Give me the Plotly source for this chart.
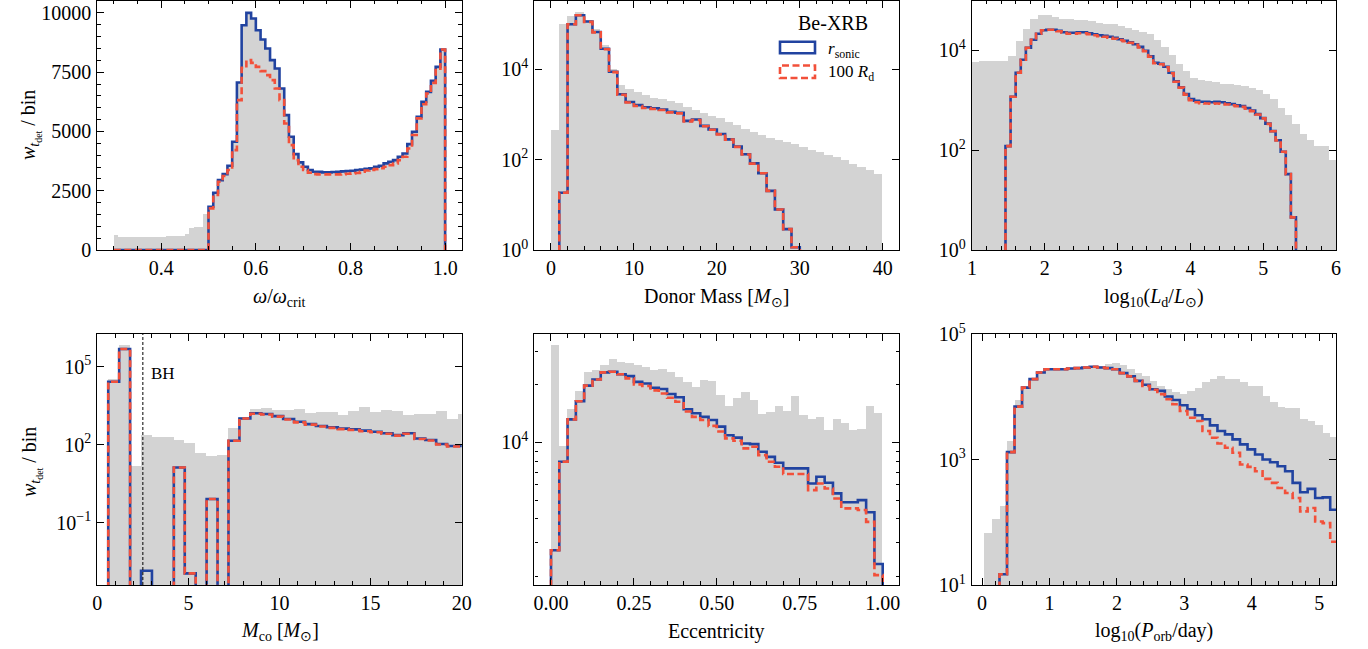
import plotly.graph_objects as go
from plotly.subplots import make_subplots

# ---------------- data ----------------
# Panel 1: omega / omega_crit (bins 0.01 from 0.30)
p1_start, p1_width = 0.30, 0.01
grey1 = [632, 562, 560, 562, 565, 562, 560, 562, 565, 565, 568, 590, 590, 592, 590, 700, 940, 983, 983, 1517,
         1826, 2416, 2949, 3202, 3553, 4565, 7065, 9480, 10000, 9761, 9270, 8876, 8497, 8006, 7654, 6812, 5688,
         4775, 4045, 3694, 3511, 3371, 3300, 3300, 3272, 3272, 3290, 3300, 3315, 3330, 3345, 3371, 3390, 3420,
         3441, 3511, 3553, 3652, 3722, 3792, 3933, 4073, 4466, 4986, 5618, 6250, 6671, 7135, 7725, 8455]
blue1 = [0, 0, 0, 0, 0, 0, 0, 0, 0, 0, 0, 0, 0, 0, 0, 0, 0, 0, 0, 0,
         1826, 2416, 2949, 3202, 3553, 4565, 7065, 9480, 10000, 9761, 9270, 8876, 8497, 8006, 7654, 6812, 5688,
         4775, 4045, 3694, 3511, 3371, 3300, 3300, 3272, 3272, 3290, 3300, 3315, 3330, 3345, 3371, 3390, 3420,
         3441, 3511, 3553, 3652, 3722, 3792, 3933, 4073, 4466, 4986, 5618, 6250, 6671, 7135, 7725, 8455]
red1 = [0, 0, 0, 0, 0, 0, 0, 0, 0, 0, 0, 0, 0, 0, 0, 0, 0, 0, 0, 0,
        1756, 2317, 2879, 3118, 3371, 4213, 6320, 7683, 8006, 7893, 7725, 7542, 7374, 7163, 6812, 6320, 5337,
        4424, 3792, 3511, 3371, 3258, 3202, 3188, 3188, 3188, 3188, 3188, 3200, 3215, 3230, 3250, 3300, 3350,
        3380, 3410, 3450, 3511, 3580, 3650, 3792, 3933, 4280, 4850, 5550, 6150, 6600, 7050, 7650, 8455]

# Panel 2: donor mass (bins 1 Msun from 0)
p2_start, p2_width = 0.0, 1.0
grey2 = [457, 100000, 158000, 190000, 126000, 77600, 34700, 10500, 4470, 3630, 3160, 2690, 2400, 2240, 2000,
         1780, 1450, 1260, 1100, 955, 832, 692, 589, 490, 417, 355, 309, 282, 251, 224, 195, 170, 151, 126,
         117, 98, 83, 71, 59, 50]
blue2 = [0, 18.6, 100000, 158000, 115000, 67600, 28800, 8900, 2820, 1900, 1620, 1450, 1380, 1290, 1150, 1100,
         724, 776, 562, 468, 372, 282, 195, 132, 83, 50, 20.4, 7.9, 2.9, 1.15, 0, 0, 0, 0, 0, 0, 0, 0, 0, 0]
red2 = [0, 18.6, 100000, 158000, 113000, 66000, 28000, 8700, 2750, 1850, 1550, 1400, 1330, 1260, 1120, 1060,
        700, 760, 550, 460, 365, 278, 192, 130, 82, 50, 20.4, 7.9, 2.9, 1.15, 0, 0, 0, 0, 0, 0, 0, 0, 0, 0]

# Panel 3: log10(Ld/Lsun)
p3g_start, p3g_width = 1.0, 0.1
grey3 = [5890, 6030, 6170, 6170, 6030, 7590, 15500, 26900, 42700, 50100, 50100, 46800, 42700, 42700, 40700,
         39800, 38000, 35500, 34000, 33100, 30200, 28200, 25700, 23400, 21400, 16200, 11700, 7940, 5370, 3890,
         2820, 2510, 2400, 2290, 2140, 2090, 2000, 1910, 1780, 1580, 1350, 1070, 708, 501, 339, 214, 158, 120,
         120, 65]
p3_start, p3_width = 1.46, 0.07
blue3 = [120, 1175, 3550, 6460, 11200, 16200, 21400, 25100, 25700, 25700, 24500, 22900, 22400, 22400, 22900,
         22900, 21900, 20900, 20000, 19500, 18600, 17800, 16600, 15500, 14500, 13200, 11700, 9770, 7590, 5620,
         5370, 4680, 3550, 2400, 1820, 1320, 1050, 977, 933, 933, 912, 933, 912, 871, 832, 794, 759, 692, 617,
         525, 437, 339, 240, 158, 93, 33, 4.5]
red3 = [120, 1175, 3550, 6460, 11200, 16200, 21400, 25100, 25700, 25700, 24000, 22400, 21400, 21400, 21900,
        21900, 21000, 20000, 19100, 18600, 17800, 17000, 16000, 15100, 14100, 12900, 11400, 9550, 7410, 5500,
        5250, 4570, 3470, 2340, 1780, 1290, 1000, 912, 870, 860, 850, 860, 850, 820, 790, 760, 735, 675, 605,
        518, 432, 335, 238, 157, 93, 33, 4.5]

# Panel 4: compact object mass
p4_start, p4_width = 0.6, 0.6
grey4 = [32400, 676000, 15.5, 234, 204, 191, 151, 112, 47, 36, 40, 427, 1200, 2290, 2510, 2140, 2140, 2290,
         1700, 1820, 1860, 1380, 2040, 2750, 1860, 2140, 2040, 1380, 1580, 1580, 2040, 933, 1480]
blue4 = [26300, 479000, 0, 0.0014, 0, 0, 13.2, 0.00112, 0, 0.81, 0, 141, 1020, 1620, 1510, 1260, 977, 759,
         617, 525, 468, 417, 389, 347, 316, 275, 234, 275, 174, 151, 107, 89, 89]
red4 = [26300, 479000, 0, 0, 0, 0, 13.2, 0.00112, 0, 0.81, 0, 141, 1020, 1560, 1450, 1200, 930, 720,
        590, 500, 445, 398, 370, 330, 300, 262, 223, 262, 166, 144, 102, 85, 85]
bh_limit = 2.5

# Panel 5: eccentricity
p5_start, p5_width = 0.0, 0.025
grey5 = [32200, 9570, 15000, 18500, 23400, 23900, 25500, 27400, 26400, 26000, 25300, 24800, 23900, 24300,
         23400, 22000, 20700, 19500, 21300, 20900, 17700, 15500, 17000, 18400, 16600, 14100, 14500, 15500,
         14600, 17500, 13900, 13300, 13500, 11600, 13200, 12600, 11600, 11800, 15500, 14200]
blue5 = [2740, 7930, 13200, 16400, 19800, 21300, 23200, 23400, 22700, 22200, 20700, 20300, 19300, 19000,
         17900, 17200, 14900, 14200, 13600, 13100, 12100, 10900, 10600, 9880, 9800, 8940, 8410, 7830, 7320,
         7320, 7320, 6110, 6620, 6160, 5420, 4870, 4870, 5000, 4320, 2320]
red5 = [2740, 7930, 13200, 16400, 19800, 21300, 23200, 23400, 22700, 21600, 20100, 19700, 18700, 18000,
        17100, 16300, 14500, 13600, 13100, 12200, 11400, 10500, 10200, 9310, 9490, 8590, 7930, 7470, 6840,
        6840, 6840, 5640, 6110, 5750, 5100, 4530, 4530, 4440, 3850, 2030]

# Panel 6: log10(Porb/day)
p6_start, p6_width = 0.035, 0.1115
grey6 = [67, 112, 184, 1960, 8890, 14900, 19100, 23800, 26900, 28200, 28200, 28200, 28600, 29300, 30000,
         31100, 33100, 34400, 31900, 27500, 23800, 21100, 17900, 14900, 13200, 11700, 11000, 12400, 14000,
         16900, 19100, 21100, 19500, 19100, 16900, 14900, 14900, 10300, 8260, 6970, 6710, 6710, 4480, 4110,
         3500, 2670, 2310]
blue6 = [0, 0, 14.8, 1310, 6970, 14000, 19100, 24400, 27500, 27500, 27500, 28200, 28600, 29300, 30000, 29300,
         28600, 27500, 23800, 21100, 17900, 15500, 13200, 12400, 10100, 8890, 7310, 6310, 5060, 4370, 3500,
         2840, 2510, 2090, 1740, 1450, 1200, 1000, 906, 782, 650, 424, 300, 340, 244, 249, 158]
red6 = [0, 0, 14.8, 1310, 6970, 14000, 19100, 24400, 27500, 27500, 27500, 28200, 28600, 29300, 30000, 29300,
        28600, 27500, 23800, 21100, 17900, 14900, 12900, 11000, 9120, 7590, 5930, 4640, 4110, 2840, 2220,
        1800, 1540, 1280, 832, 764, 650, 491, 424, 352, 293, 244, 149, 169, 103, 97, 49]

x_titles = ["<i>ω</i>/<i>ω</i><sub>crit</sub>", "Donor Mass [<i>M</i><sub>⊙</sub>]",
            "log<sub>10</sub>(<i>L</i><sub>d</sub>/<i>L</i><sub>⊙</sub>)",
            "<i>M</i><sub>co</sub> [<i>M</i><sub>⊙</sub>]", "Eccentricity",
            "log<sub>10</sub>(<i>P</i><sub>orb</sub>/day)"]
y_title = "<i>w</i><sub><i>t</i><sub>det</sub></sub> / bin"
legend_title = "Be-XRB"
legend_labels = ["<i>r</i><sub>sonic</sub>", "100 <i>R</i><sub>d</sub>"]

# ---------------- style ----------------
BLUE = "#2143a0"
RED = "#f2503a"
GREY = "#d3d3d3"
FONT = "Liberation Serif"
W, H = 1368, 649


def px_x(v):
    return v / W


def px_y(v):
    return 1 - v / H


def edges_of(start, width, n):
    return [start + width * i for i in range(n + 1)]


def step_xy(start, width, vals, floor):
    n = len(vals)
    e = edges_of(start, width, n)
    v = [val if val > 0 else floor for val in vals]
    xs = [e[0]] + e[:n] + [e[n], e[n]]
    ys = [floor] + v + [v[-1], floor]
    return xs, ys


def centers_of(start, width, n):
    return [start + width * (i + 0.5) for i in range(n)]


fig = make_subplots(rows=2, cols=3)

panels = [
    dict(r=1, c=1, gs=p1_start, gw=p1_width, g=grey1, s=p1_start, w=p1_width, b=blue1, rd=red1, floor=0),
    dict(r=1, c=2, gs=p2_start, gw=p2_width, g=grey2, s=p2_start, w=p2_width, b=blue2, rd=red2, floor=1e-8),
    dict(r=1, c=3, gs=p3g_start, gw=p3g_width, g=grey3, s=p3_start, w=p3_width, b=blue3, rd=red3, floor=1e-8),
    dict(r=2, c=1, gs=p4_start, gw=p4_width, g=grey4, s=p4_start, w=p4_width, b=blue4, rd=red4, floor=1e-8),
    dict(r=2, c=2, gs=p5_start, gw=p5_width, g=grey5, s=p5_start, w=p5_width, b=blue5, rd=red5, floor=1e-3),
    dict(r=2, c=3, gs=p6_start, gw=p6_width, g=grey6, s=p6_start, w=p6_width, b=blue6, rd=red6, floor=1e-3),
]

for p in panels:
    fig.add_trace(go.Bar(x=centers_of(p["gs"], p["gw"], len(p["g"])), y=p["g"], width=p["gw"],
                         marker=dict(color=GREY, line=dict(width=0)), showlegend=False,
                         hoverinfo="skip"), row=p["r"], col=p["c"])
    bx, by = step_xy(p["s"], p["w"], p["b"], p["floor"])
    fig.add_trace(go.Scatter(x=bx, y=by, mode="lines", line=dict(color=BLUE, width=2.6, shape="hv"),
                             showlegend=False), row=p["r"], col=p["c"])
    rx, ry = step_xy(p["s"], p["w"], p["rd"], p["floor"])
    fig.add_trace(go.Scatter(x=rx, y=ry, mode="lines",
                             line=dict(color=RED, width=2.6, shape="hv", dash="7px,3.5px"),
                             showlegend=False), row=p["r"], col=p["c"])

# domains (pixel geometry of the reference)
xdom = [(97.3, 461.7), (534.4, 899.3), (972.0, 1336.0)]
ydom = [(0.8, 250.0), (334.0, 585.0)]

tickfont = dict(family=FONT, size=20, color="black")
common = dict(showline=True, linecolor="black", linewidth=1.3, mirror="allticks", ticks="inside",
              ticklen=7, tickwidth=1.2, tickcolor="black", showgrid=False, zeroline=False,
              tickfont=tickfont, automargin=False)

x_cfg = [
    dict(range=[0.265, 1.035], tickvals=[0.4, 0.6, 0.8, 1.0], ticktext=["0.4", "0.6", "0.8", "1.0"], minor=dict(dtick=0.05, tick0=0.3)),
    dict(range=[-2, 42], tickvals=[0, 10, 20, 30, 40], ticktext=["0", "10", "20", "30", "40"], minor=dict(dtick=2, tick0=0)),
    dict(range=[1, 6], tickvals=[1, 2, 3, 4, 5, 6], ticktext=["1", "2", "3", "4", "5", "6"], minor=dict(dtick=0.2, tick0=0)),
    dict(range=[0, 20], tickvals=[0, 5, 10, 15, 20], ticktext=["0", "5", "10", "15", "20"], minor=dict(dtick=1, tick0=0)),
    dict(range=[-0.05, 1.05], tickvals=[0, 0.25, 0.5, 0.75, 1.0], ticktext=["0.00", "0.25", "0.50", "0.75", "1.00"], minor=dict(dtick=0.05, tick0=0)),
    dict(range=[-0.15, 5.25], tickvals=[0, 1, 2, 3, 4, 5], ticktext=["0", "1", "2", "3", "4", "5"], minor=dict(dtick=0.2, tick0=0)),
]
y_cfg = [
    dict(type="linear", range=[0, 10510], tickvals=[0, 2500, 5000, 7500, 10000],
         ticktext=["0", "2500", "5000", "7500", "10000"], minor=dict(dtick=500, tick0=0)),
    dict(type="log", range=[0, 5.52], tickvals=[1, 100, 1e4], ticktext=["10<sup>0</sup>", "10<sup>2</sup>", "10<sup>4</sup>"]),
    dict(type="log", range=[0, 4.99], tickvals=[1, 100, 1e4], ticktext=["10<sup>0</sup>", "10<sup>2</sup>", "10<sup>4</sup>"]),
    dict(type="log", range=[-3.4, 6.26], tickvals=[0.1, 100, 1e5], ticktext=["10<sup>−1</sup>", "10<sup>2</sup>", "10<sup>5</sup>"]),
    dict(type="log", range=[3.256, 4.566], tickvals=[1e4], ticktext=["10<sup>4</sup>"],
         minor=dict(tickmode="array", tickvals=[2000, 3000, 4000, 5000, 6000, 7000, 8000, 9000, 20000, 30000])),
    dict(type="log", range=[1, 5], tickvals=[10, 1000, 1e5], ticktext=["10<sup>1</sup>", "10<sup>3</sup>", "10<sup>5</sup>"]),
]

for i in range(6):
    r, c = i // 3, i % 3
    sfx = "" if i == 0 else str(i + 1)
    xa = dict(common)
    xa.update(x_cfg[i])
    xa["domain"] = [px_x(xdom[c][0]), px_x(xdom[c][1])]
    xa["tickmode"] = "array"
    xa["minor"] = dict(xa["minor"], ticks="inside", ticklen=3.5, tickwidth=1, tickcolor="black")
    xa["ticklabelstandoff"] = 0
    ya = dict(common)
    ya.update(y_cfg[i])
    ya["domain"] = [px_y(ydom[r][1]), px_y(ydom[r][0])]
    ya["tickmode"] = "array"
    ya["ticklabelstandoff"] = 1
    if "minor" in ya:
        ya["minor"] = dict(ya["minor"], ticks="inside", ticklen=3.5, tickwidth=1, tickcolor="black")
    fig.layout["xaxis" + sfx].update(xa)
    fig.layout["yaxis" + sfx].update(ya)

# x-axis titles
title_font = dict(family=FONT, size=20, color="black")
title_y = [297, 631]
for i in range(6):
    r, c = i // 3, i % 3
    fig.add_annotation(x=px_x((xdom[c][0] + xdom[c][1]) / 2), y=px_y(title_y[r]), xref="paper", yref="paper",
                       text=x_titles[i], showarrow=False, font=title_font, xanchor="center", yanchor="middle")
# y-axis titles
for r, yc in enumerate([125, 462]):
    fig.add_annotation(x=px_x(31), y=px_y(yc), xref="paper", yref="paper", text=y_title, textangle=-90,
                       showarrow=False, font=title_font, xanchor="center", yanchor="middle")

# BH limit
fig.add_shape(type="line", xref="x4", yref="y4 domain", x0=bh_limit, x1=bh_limit, y0=0, y1=1,
              line=dict(color="black", width=1, dash="3px,2px"))
fig.add_annotation(x=bh_limit, y=0.888, xref="x4", yref="y4 domain", text="BH", showarrow=False,
                   xanchor="left", xshift=6, font=dict(family=FONT, size=17, color="black"))

# legend (drawn manually)
fig.add_annotation(x=px_x(832.7), y=px_y(22.7), xref="paper", yref="paper", text=legend_title, showarrow=False,
                   font=dict(family=FONT, size=20, color="black"), xanchor="center", yanchor="middle")
fig.add_shape(type="rect", xref="paper", yref="paper", x0=px_x(780), x1=px_x(815), y0=px_y(53.3), y1=px_y(41.7),
              line=dict(color=BLUE, width=2.6), fillcolor="rgba(0,0,0,0)")
fig.add_shape(type="rect", xref="paper", yref="paper", x0=px_x(780), x1=px_x(815), y0=px_y(78), y1=px_y(65.5),
              line=dict(color=RED, width=2.6, dash="7px,3.5px"), fillcolor="rgba(0,0,0,0)")
fig.add_annotation(x=px_x(826), y=px_y(50), xref="paper", yref="paper", text=legend_labels[0], showarrow=False,
                   font=dict(family=FONT, size=17, color="black"), xanchor="left", yanchor="middle")
fig.add_annotation(x=px_x(826), y=px_y(73), xref="paper", yref="paper", text=legend_labels[1], showarrow=False,
                   font=dict(family=FONT, size=17, color="black"), xanchor="left", yanchor="middle")

fig.update_layout(width=W, height=H, margin=dict(l=0, r=0, t=0, b=0), plot_bgcolor="white",
                  paper_bgcolor="white", bargap=0, barmode="overlay", showlegend=False,
                  font=dict(family=FONT, color="black"))

# remove the default page margin so the figure sits at the window's top-left corner
fig.write_html("out.html", config={"displayModeBar": False},
               post_script="document.body.style.margin='0';")
